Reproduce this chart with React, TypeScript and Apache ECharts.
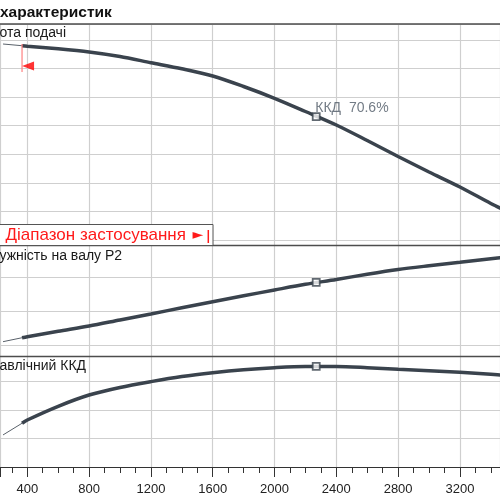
import { useEffect, useRef } from "react";
import * as echarts from "echarts";

// ---- data (flow Q on x, three characteristics) ----
const flowThin = [243, 366];
const headThin = [39.3, 39.0];
const powerThin = [154.9, 160.7];
const effThin = [22.5, 30.7];

const flow = [366, 400, 600, 800, 1000, 1200, 1400, 1600, 1800, 2000, 2200, 2400, 2600, 2800, 3000, 3200, 3400, 3500];
const head = [39.0, 38.92, 38.46, 37.9, 37.11, 36.03, 34.96, 33.7, 31.86, 29.8, 27.49, 25.13, 22.41, 19.61, 16.9, 14.28, 11.39, 10.08];
const power = [160.7, 162.2, 170.2, 177.9, 186.8, 195.6, 204.7, 213.7, 222.4, 230.9, 239.2, 246.3, 254.0, 261.0, 266.5, 271.6, 276.8, 279.4];
const efficiency = [30.7, 33.0, 42.6, 50.5, 55.8, 59.9, 63.5, 66.2, 68.3, 69.7, 70.5, 70.5, 69.7, 68.6, 67.6, 66.5, 65.1, 64.3];

const dutyFlow = 2270;
const dutyHead = 26.6;
const dutyPower = 242.2;
const dutyEfficiency = 70.6;

const rangeStartFlow = 366;
const rangeLineHead = [39.3, 34.4];
const rangeArrowHead = 35.45;

// visible axis extents (the chart is a crop of a wider figure)
const flowMin = 223.4;
const flowMax = 3459.5;
const flowStep = 400;
const headMin = 4.04;
const headMax = 42.8;
const headStep = 5;
const powerMin = 133.1;
const powerMax = 296.3;
const powerStep = 50;
const effMin = 0;
const effMax = 77.55;
const effStep = 20;

// texts
const titleText = "характеристик";
const headLabel = "ота подачі";
const powerLabel = "ужність на валу P2";
const effLabel = "авлічний ККД";
const rangeText = "Діапазон застосування";
const rangeArrow = "►";
const dutyLabel = `ККД  ${dutyEfficiency}%`;

const FONT = "Liberation Sans, Arial, sans-serif";
const CURVE = "#3a434d";
const THIN = "#59616a";
const GRID = "#cfcfcf";
const BORDER = "#4d4d4d";

const zip = (xs: number[], ys: number[]) => xs.map((x, i) => [x, ys[i]]);

export default function App() {
  const ref = useRef<HTMLDivElement>(null);

  useEffect(() => {
    if (!ref.current) return;
    const chart = echarts.init(ref.current, undefined, { renderer: "svg" });

    const panels = [
      { top: 24, height: 221.5 },
      { top: 245.5, height: 111 },
      { top: 356.5, height: 110.5 },
    ];

    const mkSplit = () => ({
      show: true,
      lineStyle: { color: GRID, width: 1.2 },
    });

    const xAxis = panels.map((_, i) => ({
      type: "value",
      gridIndex: i,
      min: flowMin,
      max: flowMax,
      minInterval: flowStep,
      maxInterval: flowStep,
      axisLine: { show: i === 2, onZero: false, lineStyle: { color: "#333", width: 1.2 } },
      axisTick: { show: i === 2, length: 10, lineStyle: { color: "#333", width: 1 } },
      minorTick: { show: i === 2, splitNumber: 4, length: 6, lineStyle: { color: "#333", width: 1 } },
      axisLabel: {
        show: i === 2,
        showMinLabel: false,
        showMaxLabel: false,
        fontSize: 13,
        color: "#222",
        margin: 15,
        fontFamily: FONT,
        formatter: (v: number) => (v % flowStep === 0 ? String(v) : ""),
      },
      splitLine: mkSplit(),
    }));

    const mkY = (i: number, extra: any) => ({
      type: "value",
      gridIndex: i,
      axisLine: { show: false },
      axisTick: { show: false },
      axisLabel: { show: false },
      splitLine: mkSplit(),
      ...extra,
    });

    const yAxis = [
      mkY(0, { min: headMin, max: headMax, minInterval: headStep, maxInterval: headStep }),
      mkY(1, { min: powerMin, max: powerMax, minInterval: powerStep, maxInterval: powerStep }),
      mkY(2, { min: effMin, max: effMax, interval: effStep }),
    ];

    const thin = (i: number, ys: number[]) => ({
      type: "line",
      xAxisIndex: i,
      yAxisIndex: i,
      data: zip(flowThin, ys),
      showSymbol: false,
      lineStyle: { color: THIN, width: 1 },
      z: 3,
    });
    const thick = (i: number, ys: number[]) => ({
      type: "line",
      xAxisIndex: i,
      yAxisIndex: i,
      data: zip(flow, ys),
      showSymbol: false,
      smooth: 0.3,
      lineStyle: { color: CURVE, width: 3.5 },
      z: 3,
    });
    const duty = (i: number, y: number, label?: string) => ({
      type: "scatter",
      xAxisIndex: i,
      yAxisIndex: i,
      data: [[dutyFlow, y]],
      symbol: "rect",
      symbolSize: 7,
      itemStyle: { color: "#ffffff", borderColor: CURVE, borderWidth: 1.8 },
      label: label
        ? {
            show: true,
            formatter: label,
            position: [3.5, -5.5],
            align: "left",
            verticalAlign: "middle",
            fontSize: 14,
            color: "#4f5a66",
            fontFamily: FONT,
          }
        : { show: false },
      z: 5,
    });

    const series: any[] = [
      thin(0, headThin),
      thick(0, head),
      duty(0, dutyHead, dutyLabel),
      {
        type: "line",
        xAxisIndex: 0,
        yAxisIndex: 0,
        data: rangeLineHead.map((h) => [rangeStartFlow, h]),
        showSymbol: false,
        lineStyle: { color: "#ff8080", width: 1.2 },
        z: 4,
      },
      {
        type: "scatter",
        xAxisIndex: 0,
        yAxisIndex: 0,
        data: [[rangeStartFlow, rangeArrowHead]],
        symbol: "triangle",
        symbolRotate: 90,
        symbolSize: [9, 12],
        symbolOffset: [6, 0],
        itemStyle: { color: "#ff0000" },
        z: 4,
      },
      thin(1, powerThin),
      thick(1, power),
      duty(1, dutyPower),
      thin(2, effThin),
      thick(2, efficiency),
      duty(2, dutyEfficiency),
    ];

    const textStyle = (text: string, size: number, fill: string, weight = "normal", family = FONT) => ({
      text,
      fill,
      fontSize: size,
      fontWeight: weight,
      fontFamily: family,
      verticalAlign: "middle",
      align: "left",
    });

    const borderYs = [24, 245.5, 356.5];

    chart.setOption({
      animation: false,
      grid: panels.map((p) => ({
        left: 0,
        right: 0,
        top: p.top,
        height: p.height,
        outerBoundsMode: "none",
      })),
      xAxis,
      yAxis,
      series,
      graphic: [
        ...borderYs.map((y) => ({
          type: "line",
          z: 50,
          shape: { x1: 0, y1: y, x2: 500, y2: y },
          style: { stroke: BORDER, lineWidth: 1.3 },
        })),
        { type: "text", x: 0, y: 11, z: 100, style: textStyle(titleText, 15.5, "#111", "bold") },
        { type: "text", x: -0.5, y: 32, z: 100, style: textStyle(headLabel, 14, "#1a1a1a") },
        { type: "text", x: -0.5, y: 255, z: 100, style: textStyle(powerLabel, 14, "#1a1a1a") },
        { type: "text", x: -0.5, y: 364.5, z: 100, style: textStyle(effLabel, 14, "#1a1a1a") },
        {
          type: "rect",
          z: 100,
          shape: { x: -1, y: 224.5, width: 214, height: 21 },
          style: { fill: "#ffffff", stroke: "#555", lineWidth: 1 },
        },
        { type: "text", x: 5.5, y: 234, z: 101, style: textStyle(rangeText, 17, "#ff1a1a") },
        { type: "text", x: 192.5, y: 233.5, z: 101, style: textStyle(rangeArrow, 14, "#ff1a1a", "normal", "DejaVu Sans") },
        {
          type: "line",
          z: 101,
          shape: { x1: 208.3, y1: 230, x2: 208.3, y2: 243 },
          style: { stroke: "#ff1a1a", lineWidth: 1.5 },
        },
      ],
    });

    return () => chart.dispose();
  }, []);

  return <div ref={ref} style={{ position: "fixed", left: 0, top: 0, width: 500, height: 500 }} />;
}
